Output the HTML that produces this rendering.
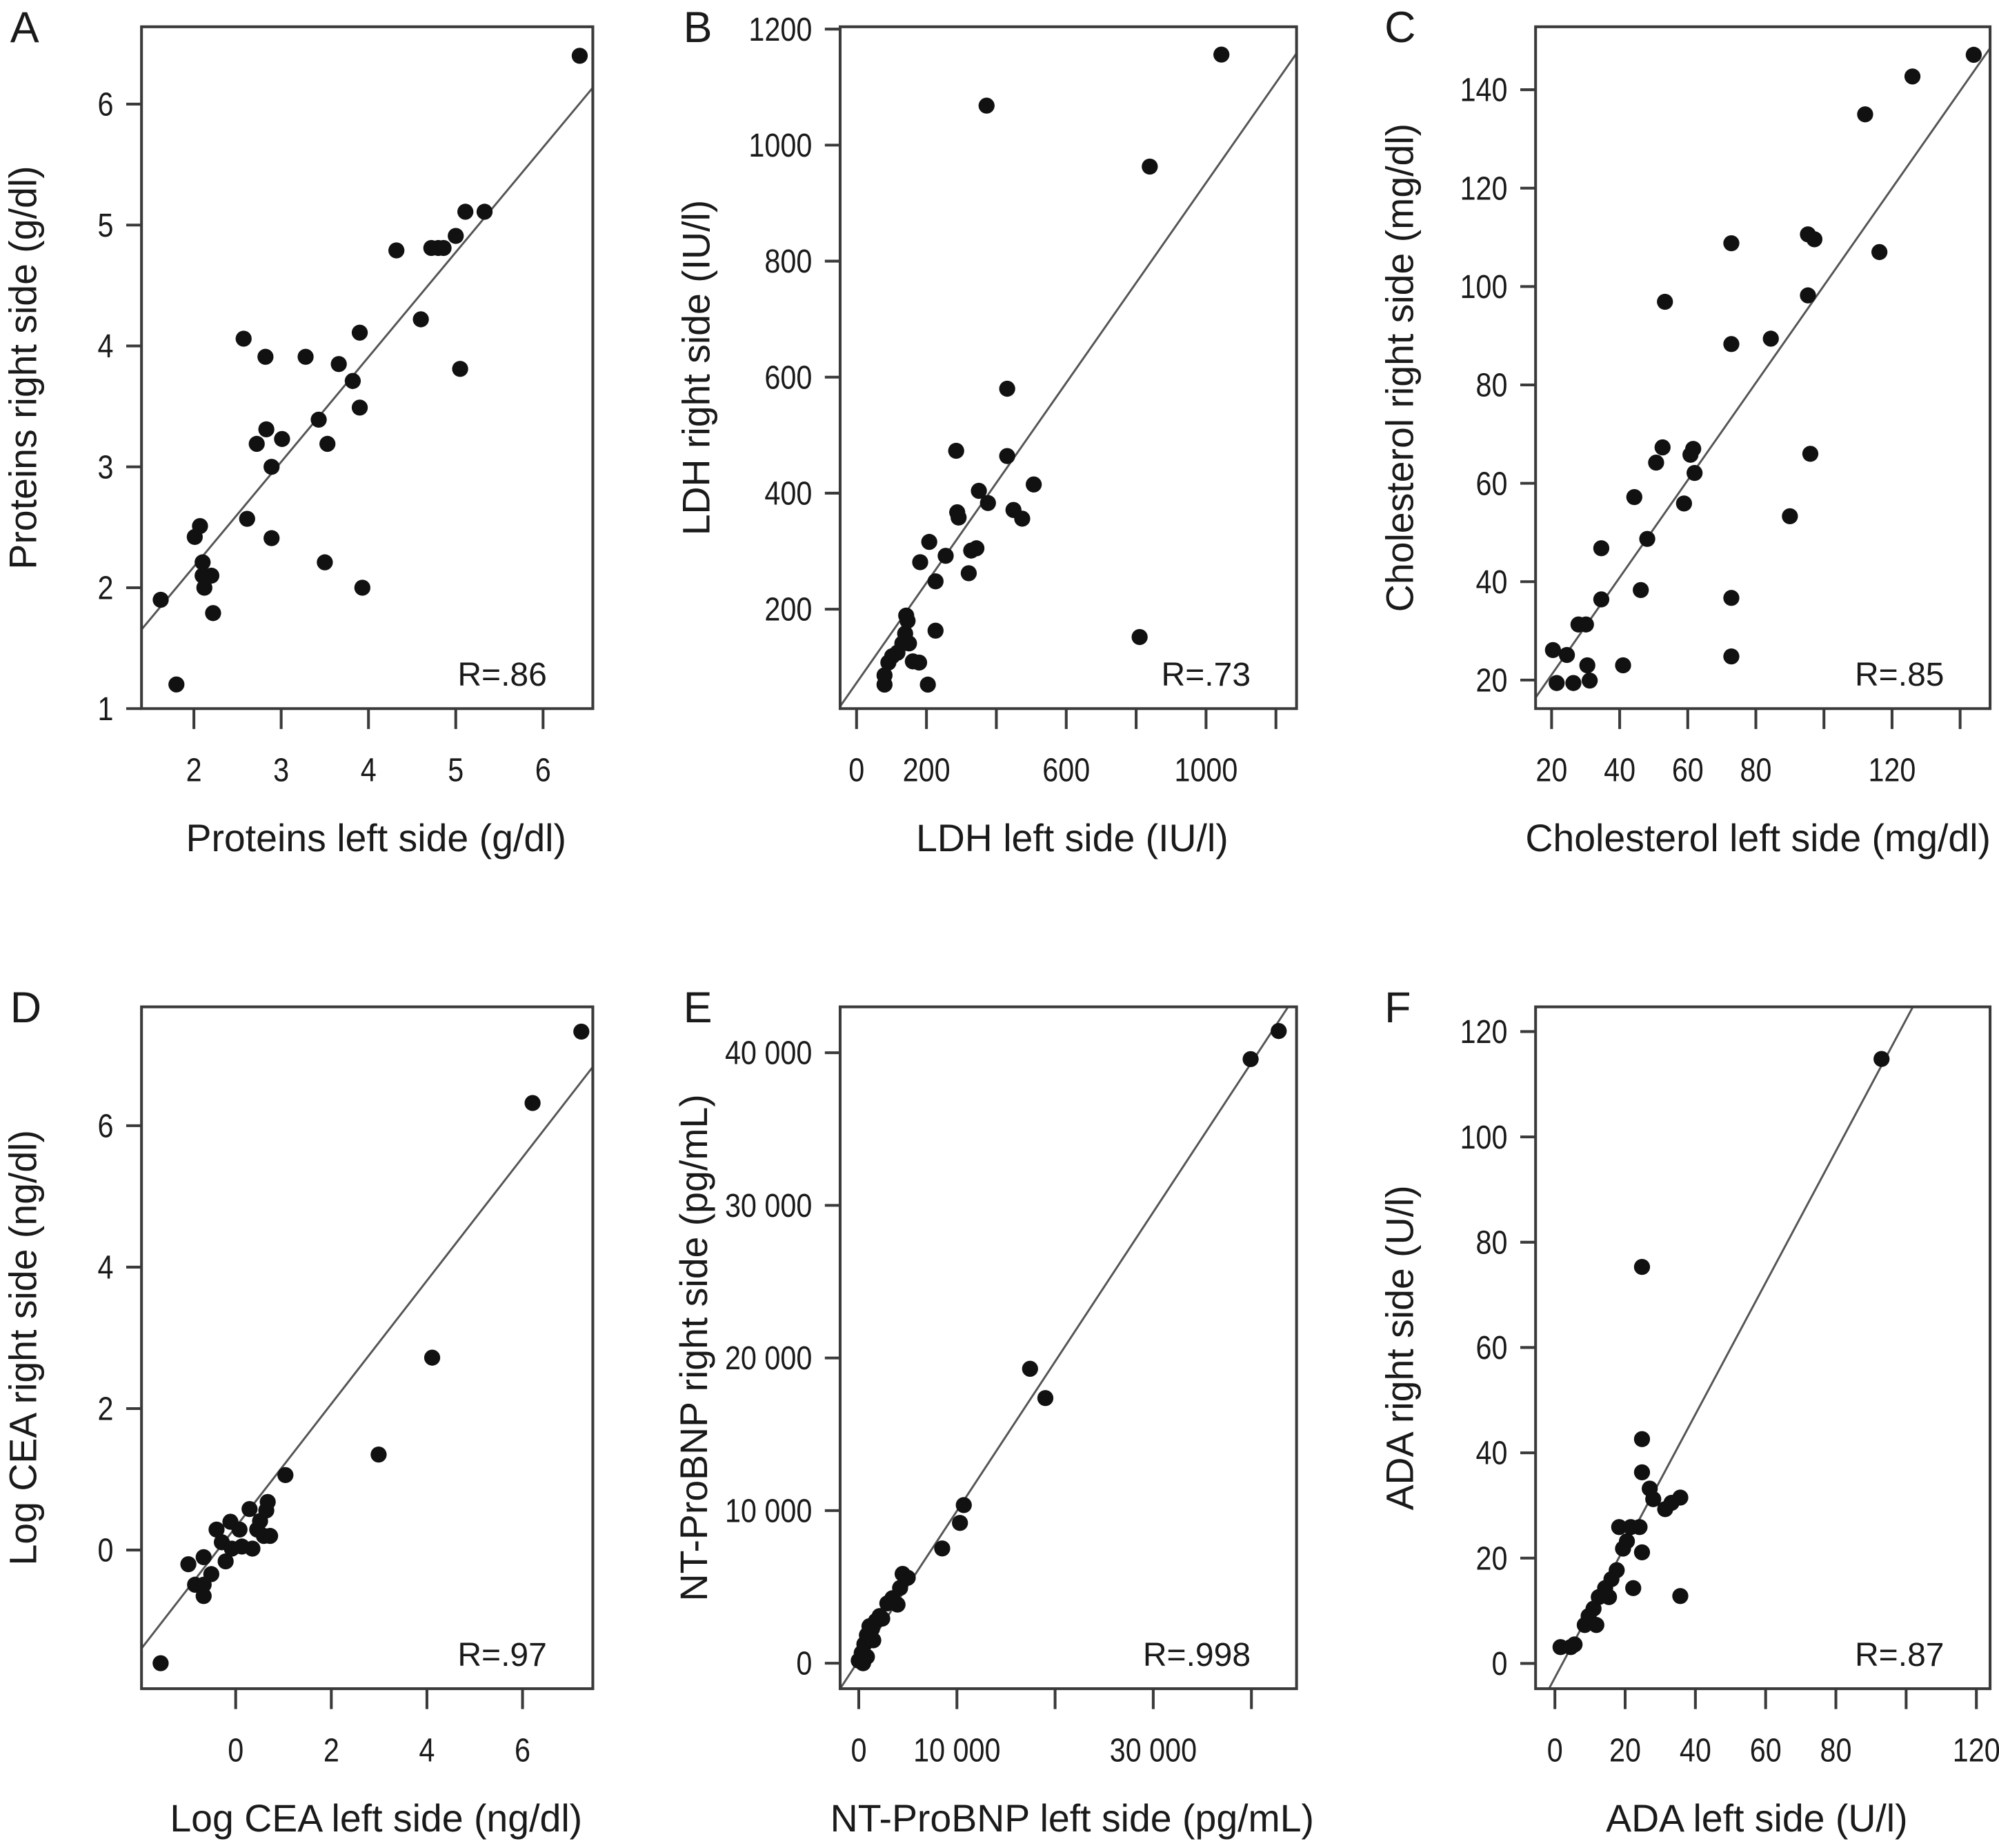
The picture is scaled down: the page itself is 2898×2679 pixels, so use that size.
<!DOCTYPE html>
<html><head><meta charset="utf-8">
<style>
html,body{margin:0;padding:0;background:#fff;}
svg{display:block;}
text{font-family:"Liberation Sans",Arial,sans-serif;fill:#1a1a1a;}
</style></head>
<body>
<svg id="fig" width="2898" height="2679" viewBox="0 0 1568 1450" preserveAspectRatio="none" xmlns="http://www.w3.org/2000/svg"></svg>
<script>
// ---- Panel A: Proteins ----
const aX = [1.62,1.80,2.01,2.07,2.10,2.10,2.12,2.20,2.22,2.57,2.61,2.72,2.82,2.83,2.89,2.89,3.01,3.28,3.43,3.53,3.50,3.66,3.82,3.90,3.90,3.93,4.32,4.60,4.72,4.80,4.86,5.00,5.05,5.11,5.33,6.42];
const aY = [1.90,1.20,2.42,2.51,2.21,2.10,2.00,2.10,1.79,4.06,2.57,3.19,3.91,3.31,3.00,2.41,3.23,3.91,3.39,3.19,2.21,3.85,3.71,4.11,3.49,2.00,4.79,4.22,4.81,4.81,4.81,4.91,3.81,5.11,5.11,6.40];
const aXTicks = [2,3,4,5,6];
const aXLabels = ["2","3","4","5","6"];
const aYTicks = [1,2,3,4,5,6];
const aYLabels = ["1","2","3","4","5","6"];
const aFit = [0.44,0.867];
// ---- Panel B: LDH ----
const bX = [80,80,91,102,117,131,139,146,150,161,142,179,182,204,208,226,226,255,285,288,292,321,328,343,350,376,431,431,449,474,507,372,810,839,1044];
const bY = [70,86,108,119,125,141,158,180,141,110,189,108,281,70,316,163,248,292,473,367,358,262,301,305,404,383,580,464,371,356,415,1068,152,963,1156];
const bXTicks = [0,200,400,600,800,1000,1200];
const bXLabels = ["0","200","","600","","1000",""];
const bYTicks = [200,400,600,800,1000,1200];
const bYLabels = ["200","400","600","800","1000","1200"];
const bFit = [73,0.862];
// ---- Panel C: Cholesterol ----
const cX = [20.4,21.5,24.5,26.4,27.9,30.1,30.5,31.2,34.6,34.6,41,44.3,46.2,48.1,50.7,52.6,53.3,58.9,60.8,61.6,62,72.8,72.8,72.8,72.8,84.4,90,95.3,95.3,97.2,96,116.3,112.1,126,144];
const cY = [26.1,19.4,25.1,19.4,31.3,31.3,23,19.9,46.8,36.4,23,57.2,38.3,48.7,64.2,67.3,96.9,55.9,65.8,67,62.1,108.8,88.3,36.7,24.8,89.4,53.3,98.2,110.6,109.6,66,107,135,142.7,147.1];
const cXTicks = [20,40,60,80,100,120,140];
const cXLabels = ["20","40","60","80","","120",""];
const cYTicks = [20,40,60,80,100,120,140];
const cYLabels = ["20","40","60","80","100","120","140"];
const cFit = [1.3,0.989];
// ---- Panel D: Log CEA ----
const dX = [-1.57,-0.99,-0.85,-0.67,-0.67,-0.67,-0.51,-0.4,-0.29,-0.21,-0.11,-0.08,0.08,0.13,0.29,0.35,0.45,0.51,0.59,0.64,0.67,0.72,1.04,2.99,4.11,6.21,7.23];
const dY = [-1.6,-0.2,-0.49,-0.49,-0.65,-0.1,-0.34,0.29,0.11,-0.16,0.4,0.02,0.29,0.05,0.58,0.02,0.29,0.41,0.2,0.56,0.68,0.2,1.06,1.35,2.72,6.32,7.33];
const dXTicks = [0,2,4,6];
const dXLabels = ["0","2","4","6"];
const dYTicks = [0,2,4,6];
const dYLabels = ["0","2","4","6"];
const dFit = [0.325,0.871];
// ---- Panel E: NT-ProBNP ----
const eX = [0,300,570,830,1090,1350,1740,2130,2390,2910,3430,3950,4210,4470,4990,8500,10310,10700,17450,19010,39920,42780,440,830,1480];
const eY = [170,670,1250,1840,2420,2250,2760,3090,2920,3920,4260,3840,4930,5850,5600,7520,9190,10360,19290,17370,39580,41420,0,420,1500];
const eXTicks = [0,10000,20000,30000,40000];
const eXLabels = ["0","10 000","","30 000",""];
const eYTicks = [0,10000,20000,30000,40000];
const eYLabels = ["0","10 000","20 000","30 000","40 000"];
const eFit = [186,0.979];
// ---- Panel F: ADA ----
const fX = [1.6,4.5,5.6,8.5,9.6,11,11.8,12.5,14.3,15.4,16.1,17.6,18.3,19.4,20.5,21.6,22.3,24.1,24.8,24.8,24.8,24.8,27,28,31.4,33.2,35.7,35.7,93];
const fY = [3.1,3.1,3.6,7.3,9,10.4,7.3,12.6,14.3,12.6,16,17.7,25.9,21.8,23.2,25.9,14.3,25.9,21.1,36.3,42.6,75.3,33.2,31.2,29.3,30.5,31.5,12.8,114.8];
const fXTicks = [0,20,40,60,80,100,120];
const fXLabels = ["0","20","40","60","80","","120"];
const fYTicks = [0,20,40,60,80,100,120];
const fYLabels = ["0","20","40","60","80","100","120"];
const fFit = [-2.7,1.25];

const NS = "http://www.w3.org/2000/svg";
const svg = document.getElementById('fig');
function mk(tag, attrs, parent, txt){
  const e = document.createElementNS(NS, tag);
  for (const k in attrs) e.setAttribute(k, attrs[k]);
  if (txt !== undefined) e.textContent = txt;
  parent.appendChild(e);
  return e;
}
const panels = [
  {id:'a', letter:'A', L:111, R:465, T:21, B:556, xd:[1.40,6.57], yd:[1.0,6.64], xs:aX, ys:aY, xt:aXTicks, xl:aXLabels, yt:aYTicks, yl:aYLabels, fit:aFit, xtitle:'Proteins left side (g/dl)', ytitle:'Proteins right side (g/dl)', r:'R=.86', lx:8, ytx:18, xtc:295},
  {id:'b', letter:'B', L:659, R:1017, T:21, B:556, xd:[-47,1259], yd:[28.6,1204], xs:bX, ys:bY, xt:bXTicks, xl:bXLabels, yt:bYTicks, yl:bYLabels, fit:bFit, xtitle:'LDH left side (IU/l)', ytitle:'LDH right side (IU/l)', r:'R=.73', lx:536, ytx:546, xtc:841},
  {id:'c', letter:'C', L:1204.5, R:1561, T:21, B:556, xd:[15.3,148.8], yd:[14.2,152.8], xs:cX, ys:cY, xt:cXTicks, xl:cXLabels, yt:cYTicks, yl:cYLabels, fit:cFit, xtitle:'Cholesterol left side (mg/dl)', ytitle:'Cholesterol right side (mg/dl)', r:'R=.85', lx:1086, ytx:1098, xtc:1379},
  {id:'d', letter:'D', L:111, R:465, T:790, B:1325, xd:[-1.97,7.47], yd:[-1.96,7.68], xs:dX, ys:dY, xt:dXTicks, xl:dXLabels, yt:dYTicks, yl:dYLabels, fit:dFit, xtitle:'Log CEA left side (ng/dl)', ytitle:'Log CEA right side (ng/dl)', r:'R=.97', lx:8, ytx:18, xtc:295},
  {id:'e', letter:'E', L:659, R:1017, T:790, B:1325, xd:[-1896,44597], yd:[-1670,43006], xs:eX, ys:eY, xt:eXTicks, xl:eXLabels, yt:eYTicks, yl:eYLabels, fit:eFit, xtitle:'NT-ProBNP left side (pg/mL)', ytitle:'NT-ProBNP right side (pg/mL)', r:'R=.998', lx:536, ytx:544, xtc:841},
  {id:'f', letter:'F', L:1204.5, R:1561, T:790, B:1325, xd:[-5.5,123.9], yd:[-4.8,124.7], xs:fX, ys:fY, xt:fXTicks, xl:fXLabels, yt:fYTicks, yl:fYLabels, fit:fFit, xtitle:'ADA left side (U/l)', ytitle:'ADA right side (U/l)', r:'R=.87', lx:1086, ytx:1098, xtc:1378}
];
function narrowText(parent, x, y, size, anchor, str){
  const wrap = mk('g', {transform:'translate(' + x + ' ' + y + ') scale(0.86 1)'}, parent);
  return mk('text', {x:0, y:0, 'font-size':size, 'text-anchor':anchor}, wrap, str);
}
panels.forEach(p => {
  const g = mk('g', {}, svg);
  
  
  const sx = v => p.L + (v - p.xd[0]) / (p.xd[1] - p.xd[0]) * (p.R - p.L);
  const sy = v => p.B - (v - p.yd[0]) / (p.yd[1] - p.yd[0]) * (p.B - p.T);
  const letter = mk('text', {x:p.lx, y:p.T + 12, 'font-size':34}, g, p.letter);
  
  
  const cp = mk('clipPath', {id:'clip-' + p.id}, g);
  mk('rect', {x:p.L, y:p.T, width:p.R - p.L, height:p.B - p.T}, cp);
  const fl = mk('line', {x1:sx(p.xd[0]), y1:sy(p.fit[0] + p.fit[1] * p.xd[0]), x2:sx(p.xd[1]), y2:sy(p.fit[0] + p.fit[1] * p.xd[1]), stroke:'#555', 'stroke-width':1.6, 'clip-path':'url(#clip-' + p.id + ')'}, g);
  
  
  for (let i = 0; i < p.xs.length; i++) {
    const c = mk('circle', {cx:sx(p.xs[i]), cy:sy(p.ys[i]), r:6.3, fill:'#111'}, g);
    
    
  }
  const fr = mk('rect', {x:p.L, y:p.T, width:p.R - p.L, height:p.B - p.T, fill:'none', stroke:'#3a3a3a', 'stroke-width':2.2}, g);
  
  
  p.xt.forEach((t, i) => {
    const x = sx(t);
    const tk = mk('line', {x1:x, y1:p.B, x2:x, y2:p.B + 16, stroke:'#3a3a3a', 'stroke-width':2.2}, g);
    
    
    if (p.xl[i]) {
      const tl = narrowText(g, x, p.B + 57, 26, 'middle', p.xl[i]);
      
      
    }
  });
  p.yt.forEach((t, i) => {
    const y = sy(t);
    const tk = mk('line', {x1:p.L - 12, y1:y, x2:p.L, y2:y, stroke:'#3a3a3a', 'stroke-width':2.2}, g);
    
    
    const tl = narrowText(g, p.L - 22, y + 9, 26, 'end', p.yl[i]);
    
    
  });
  const xt = mk('text', {x:p.xtc, y:p.B + 112, 'font-size':30, 'text-anchor':'middle'}, g, p.xtitle);
  
  
  const cy = (p.T + p.B) / 2;
  const yt = mk('text', {x:p.ytx, y:cy, 'font-size':30, 'text-anchor':'middle', transform:'rotate(-90 ' + p.ytx + ' ' + cy + ')', dy:'0.35em'}, g, p.ytitle);
  
  
  const rl = mk('text', {x:p.R - 36, y:p.B - 18, 'font-size':26, 'text-anchor':'end'}, g, p.r);
  
  
});
</script>
</body></html>
